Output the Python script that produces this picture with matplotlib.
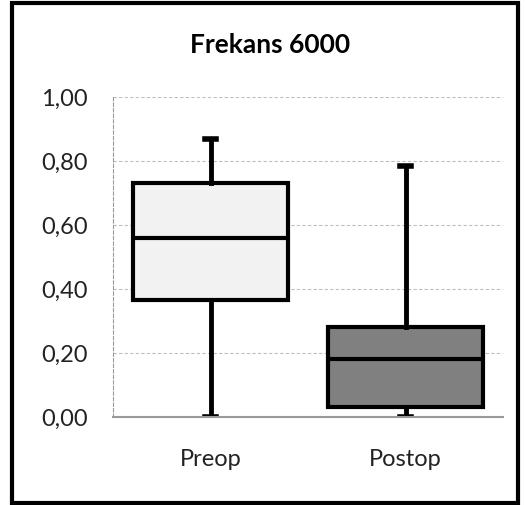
import matplotlib
matplotlib.use("Agg")
import matplotlib.pyplot as plt
from matplotlib.patches import Rectangle

categories = ["Preop", "Postop"]
whisker_low = [0.00, 0.00]
q1 = [0.365, 0.03]
median = [0.56, 0.18]
q3 = [0.73, 0.28]
whisker_high = [0.87, 0.785]
fills = ["#f2f2f2", "#808080"]
yticks = [0.0, 0.2, 0.4, 0.6, 0.8, 1.0]
ytick_labels = ["0,00", "0,20", "0,40", "0,60", "0,80", "1,00"]
title = "Frekans 6000"

plt.rcParams['font.family'] = ['Lato', 'DejaVu Sans']

W, H = 525, 505
fig = plt.figure(figsize=(W/100, H/100), dpi=100)
ax = fig.add_axes([113/W, 1-417/H, 390/W, 320/H])

stats = []
for i, c in enumerate(categories):
    stats.append(dict(label=c, whislo=whisker_low[i], q1=q1[i], med=median[i],
                      q3=q3[i], whishi=whisker_high[i], fliers=[]))

bp = ax.bxp(stats, positions=[1, 2], widths=0.79, patch_artist=True,
            showfliers=False, capwidths=0.06,
            boxprops=dict(linewidth=3, edgecolor='black'),
            medianprops=dict(color='black', linewidth=3),
            whiskerprops=dict(color='black', linewidth=3.5),
            capprops=dict(color='black', linewidth=4))
for patch, f in zip(bp['boxes'], fills):
    patch.set_facecolor(f)

ax.set_xlim(0.5, 2.5)
ax.set_ylim(0, 1.0)
ax.set_yticks(yticks)
ax.set_yticklabels(ytick_labels, fontsize=17, color='#222222')
ax.set_xticks([1, 2])
ax.set_xticklabels(categories, fontsize=17, color='#222222')
ax.tick_params(axis='both', length=0)
ax.tick_params(axis='y', pad=18)
ax.tick_params(axis='x', pad=23)
ax.yaxis.grid(True, linestyle=(0, (3, 2)), color='#bfbfbf', linewidth=0.8)
ax.set_axisbelow(True)
for s in ['top', 'right']:
    ax.spines[s].set_visible(False)
ax.spines['left'].set_linestyle((0, (3, 2)))
ax.spines['left'].set_color('#9a9a9a')
ax.spines['left'].set_linewidth(0.8)
ax.spines['bottom'].set_color('#9a9a9a')
ax.spines['bottom'].set_linewidth(1.5)

fig.text(270/W, 1-45/H, title, ha='center', va='center',
         fontsize=19, fontweight='bold')

fig.patches.append(Rectangle((12/W, 1-503/H), 506/W, 500/H, transform=fig.transFigure,
                             fill=False, edgecolor='black', linewidth=3))

fig.savefig("out.png", dpi=100)
